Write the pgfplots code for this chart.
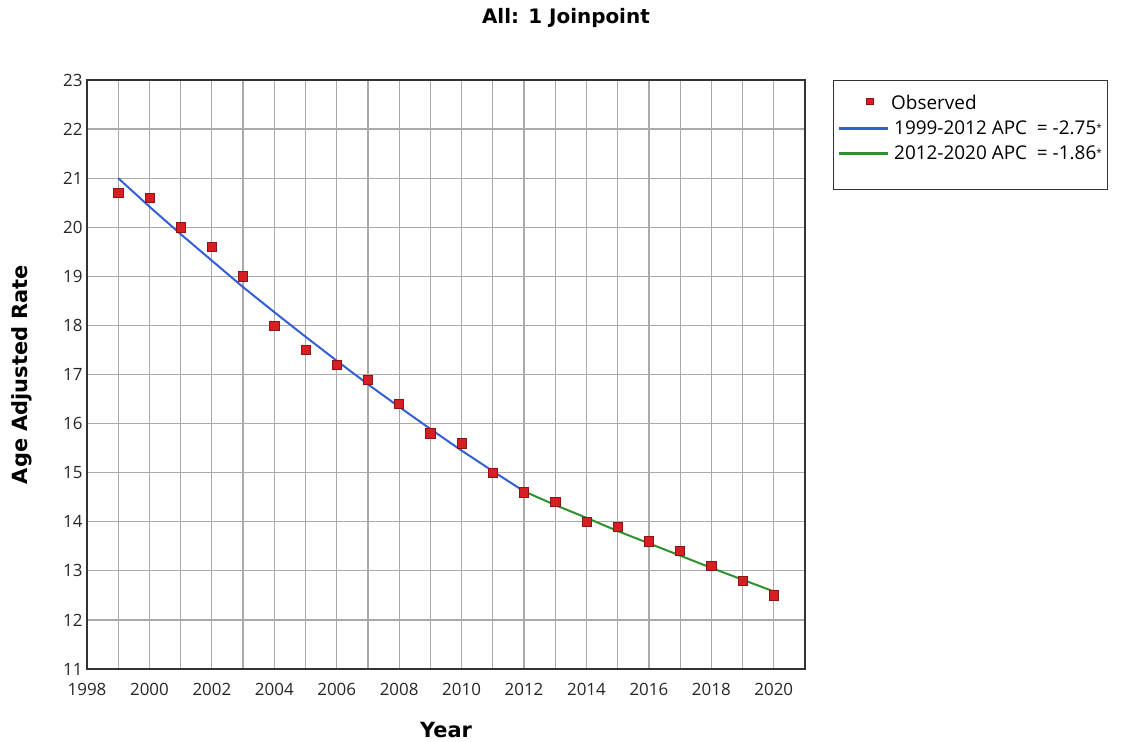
\documentclass[border=0pt]{standalone}
\usepackage{fontspec}
\setmainfont{Open Sans}
\newfontfamily\titlefont{DejaVu Sans}
\usepackage{pgfplots}
\pgfplotsset{compat=1.18}
\definecolor{obsred}{RGB}{215,30,35}
\definecolor{obsedge}{RGB}{140,20,20}
\definecolor{fitblue}{RGB}{50,95,215}
\definecolor{fitgreen}{RGB}{45,145,45}
\definecolor{gridgray}{RGB}{170,170,170}
\pgfplotsset{
  lineimg/.style={legend image code/.code={\draw[##1, line width=2.6pt] (0bp,0bp) -- (49bp,0bp);}},
  obsimg/.style={legend image code/.code={\draw[##1, mark size=3.2bp] plot coordinates {(31bp,2.5bp)};}},
}
\begin{document}
\begin{tikzpicture}
\useasboundingbox (-87bp,-73bp) rectangle (1046bp,669bp);
\begin{axis}[
  at={(0,0)}, anchor=south west,
  scale only axis, width=718bp, height=589bp,
  xmin=1998, xmax=2021, ymin=11, ymax=23,
  xtick={1998,2000,...,2020}, minor xtick={1999,2001,...,2021},
  ytick={11,12,...,23},
  grid=both,
  major grid style={gridgray, line width=1.2pt},
  minor grid style={gridgray, line width=1.2pt},
  major tick length=0pt, minor tick length=0pt,
  axis line style={black!80, line width=1.4pt},
  tick label style={font=\fontsize{17}{20}\selectfont, text=black!85},
  /pgf/number format/assume math mode=true,
  /pgf/number format/1000 sep={},
  xticklabel style={yshift=-11bp},
  yticklabel style={xshift=-1bp},
  xlabel={\titlefont\bfseries\fontsize{21}{25}\selectfont Year},
  ylabel={\titlefont\bfseries\fontsize{21}{25}\selectfont Age Adjusted Rate},
  xlabel style={at={(axis description cs:0.5,0)}, anchor=center, yshift=-61bp},
  ylabel style={at={(axis description cs:0,0.5)}, anchor=center, yshift=65bp},
  legend style={at={(1.039,1)}, anchor=north west, draw=black!80, line width=1.2pt,
    font=\fontsize{19}{22}\selectfont, inner xsep=4bp, inner ysep=13bp,
    row sep=5.5bp},
  legend cell align=left,
  lineimg,
  clip=false,
]
\addplot[only marks, mark=square*, mark size=4.6bp, mark options={fill=obsred, draw=obsedge, line width=0.6pt}, obsimg] coordinates {
(1999,20.7) (2000,20.6) (2001,20.0) (2002,19.6) (2003,19.0) (2004,18.0)
(2005,17.5) (2006,17.2) (2007,16.9) (2008,16.4) (2009,15.8) (2010,15.6)
(2011,15.0) (2012,14.6) (2013,14.4) (2014,14.0) (2015,13.9) (2016,13.6)
(2017,13.4) (2018,13.1) (2019,12.8) (2020,12.5)
};
\addlegendentry{Observed}
\addplot[fitblue, line width=2pt, mark=none] coordinates {
(1999,21.00) (2000,20.42) (2001,19.86) (2002,19.32) (2003,18.78) (2004,18.27)
(2005,17.77) (2006,17.28) (2007,16.80) (2008,16.34) (2009,15.89) (2010,15.45)
(2011,15.03) (2012,14.62)
};
\addlegendentry{\hspace{3bp}1999-2012 APC \ = -2.75\raisebox{0.3ex}{\fontsize{10}{10}\selectfont*}\hspace{20bp}}
\addplot[fitgreen, line width=2pt, mark=none] coordinates {
(2012,14.62) (2013,14.34) (2014,14.08) (2015,13.81) (2016,13.56) (2017,13.31)
(2018,13.06) (2019,12.82) (2020,12.58)
};
\addlegendentry{\hspace{3bp}2012-2020 APC \ = -1.86\raisebox{0.3ex}{\fontsize{10}{10}\selectfont*}}
\addlegendimage{empty legend}
\addlegendentry{\rule{0pt}{3bp}}
\node[font=\titlefont\bfseries\fontsize{20}{24}\selectfont, anchor=center] at (rel axis cs:0.667,1.105) {All: 1 Joinpoint};
\end{axis}
\end{tikzpicture}
\end{document}
